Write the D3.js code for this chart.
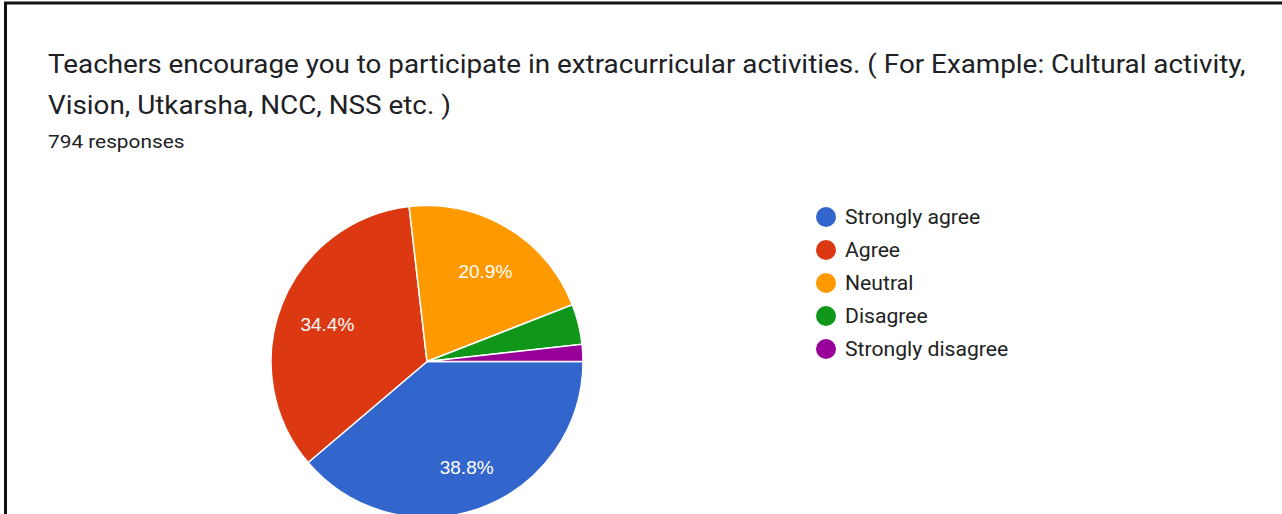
<!DOCTYPE html>
<html><head><meta charset="utf-8">
<script src="https://cdn.jsdelivr.net/npm/d3@7"></script>
<style>html,body{margin:0;padding:0;background:#fff;overflow:hidden}</style>
</head><body>
<svg id="c" width="1282" height="514"></svg>
<script>
const categories = ["Strongly agree","Agree","Neutral","Disagree","Strongly disagree"];
const counts = [308, 273, 166, 33, 14];
const colors = ["#3366cc","#dc3912","#ff9900","#109618","#990099"];
const titleLines = ["Teachers encourage you to participate in extracurricular activities. ( For Example: Cultural activity,","Vision, Utkarsha, NCC, NSS etc. )"];
const subtitle = "794 responses";

const svg = d3.select("#c");
function stretch(sel, f){
  sel.each(function(){
    const L = this.getComputedTextLength();
    d3.select(this).attr("textLength", L*f).attr("lengthAdjust","spacingAndGlyphs");
  });
}
svg.append("rect").attr("width",1282).attr("height",514).attr("fill","#fff");
svg.append("line").attr("x1",5.5).attr("x2",5.5).attr("y1",2).attr("y2",514).attr("stroke","#111").attr("stroke-width",3);
svg.append("line").attr("x1",4).attr("x2",1282).attr("y1",3).attr("y2",3).attr("stroke","#111").attr("stroke-width",3);

const t = svg.selectAll("text.title").data(titleLines).join("text")
  .attr("class","title").attr("x",48).attr("y",(d,i)=>73+i*41)
  .attr("font-family","Roboto").attr("font-size",25).attr("fill","#202124").text(d=>d);
stretch(t, 1.113);
const s = svg.append("text").attr("x",48).attr("y",148).attr("font-family","Roboto")
  .attr("font-size",19).attr("fill","#202124").text(subtitle);
stretch(s, 1.095);

const cx=427, cy=361.5, r=156;
const total = d3.sum(counts);
const pie = d3.pie().sort(null).value(d=>d).startAngle(Math.PI/2).endAngle(Math.PI/2+2*Math.PI);
const arcs = pie(counts);
const arc = d3.arc().innerRadius(0).outerRadius(r);
const labelArc = d3.arc().innerRadius(r*0.7).outerRadius(r*0.7);
const g = svg.append("g").attr("transform",`translate(${cx},${cy})`);
g.selectAll("path").data(arcs).join("path").attr("d",arc)
  .attr("fill",(d,i)=>colors[i]).attr("stroke","#fff").attr("stroke-width",1.5);
g.selectAll("text").data(arcs.filter(d=>d.value/total>0.1)).join("text")
  .attr("transform",d=>{const c=labelArc.centroid(d);return `translate(${c[0]+2},${c[1]+3})`;})
  .attr("text-anchor","middle").attr("dy","0.36em")
  .attr("font-family","Liberation Sans, Arial, sans-serif").attr("font-size",19).attr("fill","#fff")
  .text(d=>(d.value/total*100).toFixed(1)+"%");

const rows = svg.append("g").selectAll("g").data(categories).join("g")
  .attr("transform",(d,i)=>`translate(826,${217+i*33})`);
rows.append("circle").attr("r",10).attr("fill",(d,i)=>colors[i]);
const lt = rows.append("text").attr("x",19).attr("dy","0.36em").attr("font-family","Roboto")
  .attr("font-size",19.5).attr("fill","#222").text(d=>d);
stretch(lt, 1.085);
</script>
</body></html>
